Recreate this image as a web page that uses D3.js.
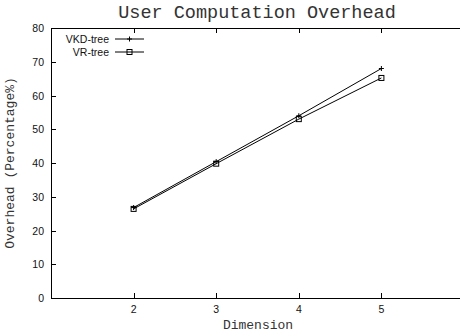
<!DOCTYPE html>
<html><head><meta charset="utf-8">
<script src="https://cdn.jsdelivr.net/npm/d3@7"></script>
<style>body{margin:0;background:#fff}svg{display:block}</style>
</head><body>
<script>
const dims = [2, 3, 4, 5];
const vkd = [26.8, 40.4, 54.0, 68.0];
const vr = [26.4, 39.8, 53.0, 65.2];
const yTicks = [0, 10, 20, 30, 40, 50, 60, 70, 80];
const xTicks = [2, 3, 4, 5];
const seriesNames = ["VKD-tree", "VR-tree"];

const W = 460, H = 336;
const svg = d3.select("body").append("svg").attr("width", W).attr("height", H);
const x = d3.scaleLinear().domain([1, 6]).range([51, 464]);
const y = d3.scaleLinear().domain([0, 80]).range([298, 28]);

const sans = "'Liberation Sans', Arial, sans-serif";
const mono = "'Liberation Mono', 'Courier New', monospace";

const g = svg.append("g").attr("stroke", "#000").attr("stroke-width", 1).attr("shape-rendering", "crispEdges");
g.append("line").attr("x1", x(1)+0.5).attr("x2", x(1)+0.5).attr("y1", y(80)).attr("y2", y(0));
g.append("line").attr("x1", x(1)).attr("x2", W).attr("y1", y(0)+0.5).attr("y2", y(0)+0.5);
g.append("line").attr("x1", x(1)).attr("x2", W).attr("y1", y(80)+0.5).attr("y2", y(80)+0.5);

yTicks.forEach(v => {
  g.append("line").attr("x1", x(1)).attr("x2", x(1)+5).attr("y1", Math.round(y(v))+0.5).attr("y2", Math.round(y(v))+0.5);
  svg.append("text").attr("x", 44).attr("y", y(v)+4).attr("text-anchor", "end")
    .attr("font-family", sans).attr("font-size", 10.5).attr("fill", "#111").text(v);
});
xTicks.forEach(v => {
  const px = Math.round(x(v))+0.5;
  g.append("line").attr("x1", px).attr("x2", px).attr("y1", y(0)).attr("y2", y(0)-5);
  g.append("line").attr("x1", px).attr("x2", px).attr("y1", y(80)).attr("y2", y(80)+5);
  svg.append("text").attr("x", x(v)).attr("y", 313).attr("text-anchor", "middle")
    .attr("font-family", sans).attr("font-size", 10.5).attr("fill", "#111").text(v);
});

svg.append("text").attr("x", 257).attr("y", 18).attr("text-anchor", "middle")
  .attr("font-family", mono).attr("font-size", 18.5).attr("fill", "#333").text("User Computation Overhead");
svg.append("text").attr("x", 258).attr("y", 329).attr("text-anchor", "middle")
  .attr("font-family", mono).attr("font-size", 13).attr("fill", "#333").text("Dimension");
svg.append("text").attr("transform", "translate(14,163) rotate(-90)").attr("text-anchor", "middle")
  .attr("font-family", mono).attr("font-size", 13).attr("fill", "#333").text("Overhead (Percentage%)");

const line = d3.line().x((d, i) => x(dims[i])).y(d => y(d));
function plus(sel, cx, cy) {
  sel.append("path").attr("d", `M${cx-2.5},${cy}H${cx+2.5}M${cx},${cy-2.5}V${cy+2.5}`).attr("stroke", "#000").attr("fill", "none");
}
function square(sel, cx, cy) {
  sel.append("rect").attr("x", cx-2.5).attr("y", cy-2.5).attr("width", 5).attr("height", 5)
    .attr("stroke", "#000").attr("fill", "none");
}

[vkd, vr].forEach((data, si) => {
  svg.append("path").datum(data).attr("d", line).attr("fill", "none").attr("stroke", "#000").attr("stroke-width", 1);
  data.forEach((v, i) => {
    if (si === 0) plus(svg, x(dims[i]), y(v)); else square(svg, x(dims[i]), y(v));
  });
});

seriesNames.forEach((name, i) => {
  const ly = 39 + i * 13;
  svg.append("text").attr("x", 109).attr("y", ly + 4).attr("text-anchor", "end")
    .attr("font-family", sans).attr("font-size", 10.5).attr("fill", "#111").text(name);
  svg.append("line").attr("x1", 115).attr("x2", 144).attr("y1", ly).attr("y2", ly).attr("stroke", "#000");
  if (i === 0) plus(svg, 129.5, ly); else square(svg, 129.5, ly);
});
</script>
</body></html>
